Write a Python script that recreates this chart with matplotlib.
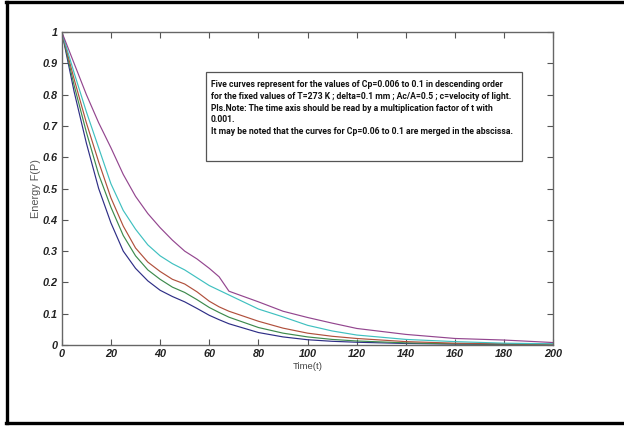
import matplotlib
matplotlib.use("Agg")
import matplotlib.pyplot as plt
from matplotlib.lines import Line2D
from matplotlib.patches import Rectangle

# values (time axis x 0.001)
time = [0, 5, 10, 15, 20, 25, 30, 35, 40, 45, 50, 55, 60, 64, 68, 80, 90, 100, 110, 120, 140, 160, 180, 200]
blue = [1, .81, .645, .50, .39, .30, .245, .205, .175, .155, .138, .117, .095, .081, .068, .040, .026, .017, .012, .009, .005, .003, .002, .001]
green = [1, .83, .68, .545, .44, .35, .285, .24, .21, .185, .168, .145, .12, .104, .089, .056, .038, .026, .018, .013, .007, .004, .003, .002]
red = [1, .85, .71, .585, .47, .38, .31, .265, .235, .21, .195, .17, .14, .122, .108, .076, .054, .038, .028, .021, .011, .006, .004, .003]
cyan = [1, .87, .745, .63, .515, .43, .37, .32, .285, .26, .24, .215, .19, .175, .16, .115, .09, .063, .045, .032, .018, .011, .006, .004]
magenta = [1, .90, .80, .71, .63, .545, .475, .42, .375, .335, .30, .275, .245, .218, .172, .138, .108, .088, .07, .053, .034, .021, .016, .008]

series = [blue, green, red, cyan, magenta]
colors = ["#2e2e86", "#3d8a4c", "#b0503c", "#3fc0c0", "#93468f"]

xticks = list(range(0, 201, 20))
yticks = [0, 0.1, 0.2, 0.3, 0.4, 0.5, 0.6, 0.7, 0.8, 0.9, 1]
ytick_labels = ["0", "0.1", "0.2", "0.3", "0.4", "0.5", "0.6", "0.7", "0.8", "0.9", "1"]

note = ("Five curves represent for the values of Cp=0.006 to 0.1 in descending order\n"
        "for the fixed values of T=273 K ; delta=0.1 mm ; Ac/A=0.5 ; c=velocity of light.\n"
        "Pls.Note: The time axis should be read by a multiplication factor of t with\n"
        "0.001.\n"
        "It may be noted that the curves for Cp=0.06 to 0.1 are merged in the abscissa.")

fig = plt.figure(figsize=(6.24, 4.26), dpi=100)
ax = fig.add_axes([0.099, 0.19, 0.788, 0.735])

for vals, c in zip(series, colors):
    ax.plot(time, vals, color=c, lw=0.85)

ax.set_xlim(0, 200)
ax.set_ylim(0, 1)
ax.set_xticks(xticks)
ax.set_xticklabels([str(v) for v in xticks])
ax.set_yticks(yticks)
ax.set_yticklabels(ytick_labels)
ax.tick_params(direction="in", length=4, width=0.8, color="#555555",
               top=True, right=True, labelsize=7.8, pad=3)
for lab in ax.get_xticklabels() + ax.get_yticklabels():
    lab.set_fontweight("bold")
    lab.set_fontstyle("italic")
    lab.set_family(["Liberation Sans", "DejaVu Sans"])
    lab.set_color("#222222")
for sp in ax.spines.values():
    sp.set_color("#666666")
    sp.set_linewidth(1.0)

ax.set_xlabel("Time(t)", fontsize=6.8, color="#444444", labelpad=2,
              family=["Liberation Sans", "DejaVu Sans"])
ax.set_ylabel("Energy F(P)", fontsize=7.8, color="#555555", labelpad=1,
              family=["Liberation Sans", "DejaVu Sans"])

# note box
ax.add_patch(Rectangle((0.293, 0.588), 0.642, 0.284, transform=ax.transAxes,
                       fc="white", ec="#555555", lw=0.9, zorder=3))
fs = 7.0
txt = ax.text(0.3035, 0.845, note, transform=ax.transAxes, va="top", ha="left",
              fontsize=fs, fontweight="bold",
              family=["Roboto", "Liberation Sans", "DejaVu Sans"],
              color="#111111", zorder=4)
# fit the longest line to the width it has in the original
fig.canvas.draw()
w = txt.get_window_extent().width
fs = fs * 302.0 / w
txt.set_fontsize(fs)
txt.set_linespacing(11.7 / (fs * 100 / 72.0))

# outer frame of the page (top, left, bottom)
fig.add_artist(Line2D([0.009, 1.0], [0.996, 0.996], color="black", lw=2.4))
fig.add_artist(Line2D([0.0105, 0.0105], [0.006, 0.996], color="black", lw=2.4))
fig.add_artist(Line2D([0.009, 1.0], [0.008, 0.008], color="black", lw=2.4))

fig.savefig("out.png", dpi=100)
